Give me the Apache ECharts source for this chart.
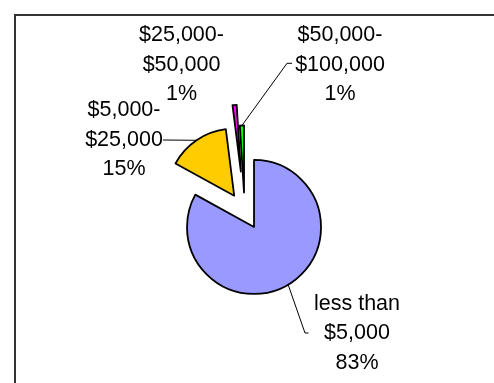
<!DOCTYPE html>
<html>
<head>
<meta charset="utf-8">
<style>
  html, body { margin: 0; padding: 0; background: #ffffff; }
  #chart { width: 494px; height: 383px; }
</style>
<script src="https://cdn.jsdelivr.net/npm/echarts@6/dist/echarts.min.js"></script>
</head>
<body>
<div id="chart"></div>
<script>
// Income bands and their share of the total
const categories = ['less than\n$5,000', '$5,000-\n$25,000', '$25,000-\n$50,000', '$50,000-\n$100,000'];
const shares = [83, 15, 1, 1];
const colors = ['#9999FF', '#FFCC00', '#FF00FF', '#00FF00'];

// Layout: pie hub, radius and how far each wedge is pulled out along its bisector
const pieCenter = [244.6, 211];
const pieRadius = 67;
const explode = [18.5, 18.5, 39.5, 18.5];

// Label anchors (text block centre) and leader-line bends
const labelSpots = [[357, 333.5], [124, 140], [181.5, 65], [340, 65]];
const leaderBends = [
  [[305, 333], [308.5, 333]],
  [[163, 140]],
  null,
  [[287, 63.3], [292, 63.3]]
];

const FONT = '"Liberation Sans", Arial, sans-serif';
const total = shares.reduce((a, b) => a + b, 0);

// bisector angle (degrees clockwise from 12 o'clock) for each wedge
const mids = [];
let acc = 0;
shares.forEach(v => { mids.push((acc + v / 2) / total * 360); acc += v; });

const centers = mids.map((m, i) => {
  const rad = m * Math.PI / 180;
  return [pieCenter[0] + explode[i] * Math.sin(rad), pieCenter[1] - explode[i] * Math.cos(rad)];
});

// One pie per wedge so every wedge can carry its own offset; the other wedges stay invisible
const series = shares.map((_, i) => ({
  type: 'pie',
  center: centers[i],
  radius: pieRadius,
  startAngle: 90,
  clockwise: true,
  avoidLabelOverlap: false,
  silent: true,
  animation: false,
  emphasis: { disabled: true },
  label: {
    show: true,
    position: 'outside',
    formatter: '{b}\n{d}%',
    color: '#000',
    fontFamily: FONT,
    fontSize: 21.5,
    lineHeight: 29.5
  },
  labelLine: { show: true, lineStyle: { color: '#000', width: 1 } },
  labelLayout: function (p) {
    if (p.dataIndex !== i) return {};
    const out = {
      x: labelSpots[i][0],
      y: labelSpots[i][1],
      align: 'center',
      verticalAlign: 'middle'
    };
    if (leaderBends[i]) {
      let start;
      if (p.labelLinePoints && p.labelLinePoints.length) {
        start = p.labelLinePoints[0];
      } else {
        const rad = mids[i] * Math.PI / 180;
        start = [centers[i][0] + pieRadius * Math.sin(rad), centers[i][1] - pieRadius * Math.cos(rad)];
      }
      out.labelLinePoints = [start].concat(leaderBends[i]);
    }
    return out;
  },
  data: shares.map((v, j) => ({
    value: v,
    name: categories[j],
    itemStyle: j === i
      ? { color: colors[j], borderColor: '#000', borderWidth: 1.8 }
      : { color: 'rgba(0,0,0,0)', borderWidth: 0 },
    label: { show: j === i },
    labelLine: { show: j === i && !!leaderBends[j] }
  }))
}));

const chart = echarts.init(document.getElementById('chart'), null, { renderer: 'canvas' });
chart.setOption({
  backgroundColor: '#ffffff',
  animation: false,
  graphic: [{
    type: 'rect',
    silent: true,
    shape: { x: 15, y: 15, width: 620, height: 620 },
    style: { fill: 'none', stroke: '#333333', lineWidth: 2 }
  }],
  series: series
});
</script>
</body>
</html>
